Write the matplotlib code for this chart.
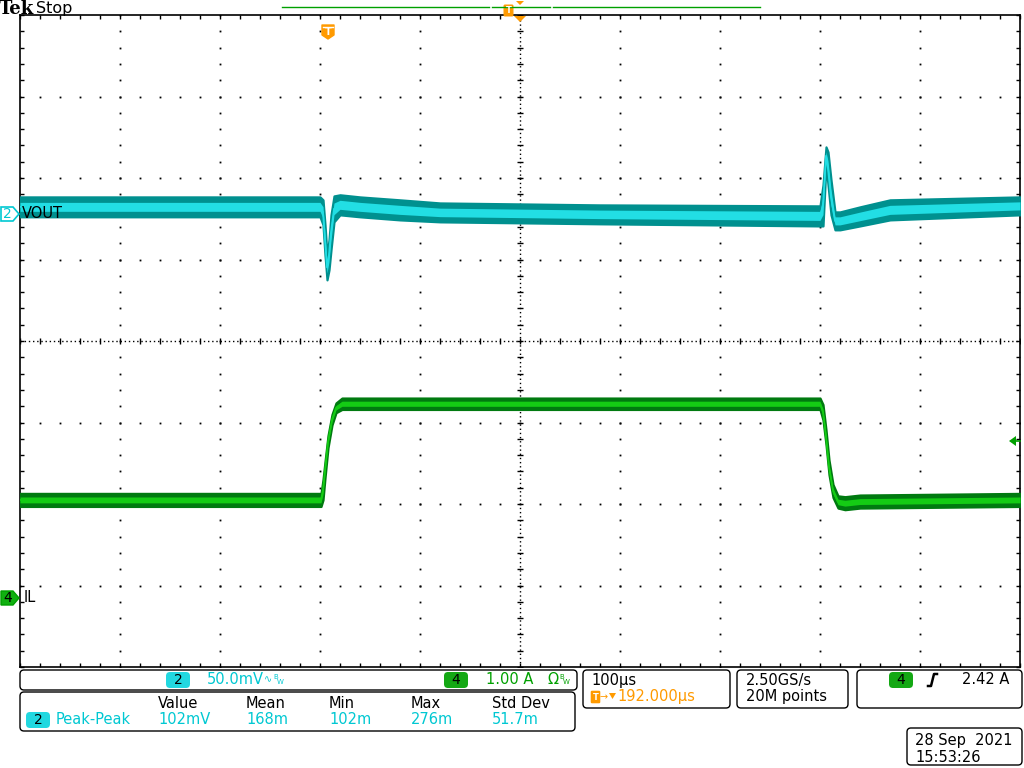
import matplotlib
matplotlib.use("Agg")
import matplotlib.pyplot as plt
from matplotlib.patches import FancyBboxPatch, Polygon
import numpy as np

# --- scope settings -------------------------------------------------------
t_left, t_right = -308, 692          # us, trigger at 0, 100 us/div
ch2_pos, ch2_scale = 1.56, 50.0      # div, mV/div  (VOUT)
ch4_pos, ch4_scale = -3.15, 1.0      # div, A/div   (IL)

# VOUT envelope (time in us, top/bottom of the band in mV relative to ch2 marker)
vout_t = [-308, -28, -8, -5, -3, -1, 1, 3, 6, 12, 32, 72, 112, 272, 492, 495,
          498, 500, 503, 507, 512, 532, 562, 692]
vout_hi = [10.4, 10.4, 10.4, 8.6, -6.7, -25.2, -16.0, -0.6, 11.0, 11.7, 10.4,
           8.6, 6.7, 5.5, 4.9, 17.8, 41.1, 38.0, 20.9, 1.2, 1.2, 4.3, 8.6, 10.4]
vout_lo = [-1.8, -1.8, -1.8, -6.7, -25.2, -40.5, -34.4, -22.1, -4.9, -0.6, -1.8,
           -3.7, -4.9, -6.1, -7.4, -7.4, 30.1, 17.8, -0.6, -9.8, -9.8, -7.4, -3.7, -0.6]

# IL envelope (time in us, top/bottom of the band in A relative to ch4 marker)
il_t = [-308, -7, -5, -3, 0, 4, 8, 14, 492, 495, 498, 501, 505, 510, 517, 532, 692]
il_hi = [1.28, 1.28, 1.45, 1.67, 1.99, 2.25, 2.39, 2.45, 2.45, 2.37, 2.06, 1.69,
         1.39, 1.25, 1.24, 1.26, 1.28]
il_lo = [1.12, 1.12, 1.20, 1.47, 1.84, 2.12, 2.27, 2.31, 2.31, 2.18, 1.88, 1.51,
         1.23, 1.10, 1.08, 1.10, 1.12]

# readouts
meas_heads = ["Value", "Mean", "Min", "Max", "Std Dev"]
meas_vals = ["102mV", "168m", "102m", "276m", "51.7m"]

CYAN_D, CYAN_L, CYAN_T = "#00908F", "#22DEE4", "#00C8D2"
GREEN_D, GREEN_L, GREEN_T = "#007A10", "#14CC14", "#00A000"
ORANGE = "#FF9A00"

fig = plt.figure(figsize=(10.24, 7.68), dpi=100)
fig.patch.set_facecolor("white")

# graticule axes
ax = fig.add_axes([20 / 1024, 101 / 768, 1000 / 1024, 652 / 768])
ax.set_xlim(t_left, t_right)
ax.set_ylim(-4, 4)
for s in ax.spines.values():
    s.set_linewidth(1.2)
ax.set_xticks(np.arange(t_left, t_right + 1, 20))
ax.set_yticks(np.arange(-4, 4.01, 0.2))
ax.tick_params(direction="in", length=3, width=1, top=True, right=True,
               labelbottom=False, labelleft=False)

# dotted division lines
xdiv = np.arange(t_left + 100, t_right, 100)
ydiv = np.arange(-3, 4, 1)
yfine = np.arange(-4, 4.01, 0.2)
xfine = np.arange(t_left, t_right + 1, 20)
for xv in xdiv:
    if xv == 192:
        continue
    ax.plot([xv] * len(yfine), yfine, ls="none", marker="s", ms=1.3, mew=0, color="k", zorder=1)
for yv in ydiv:
    if yv == 0:
        continue
    ax.plot(xfine, [yv] * len(xfine), ls="none", marker="s", ms=1.3, mew=0, color="k", zorder=1)
# center cross
ax.axhline(0, color="k", lw=1, ls=(0, (1, 2)), zorder=1)
ax.axvline(192, color="k", lw=1, ls=(0, (1, 2)), zorder=1)
ax.plot(xfine, [0] * len(xfine), ls="none", marker="|", ms=4.5, mew=1, color="k", zorder=1)
ax.plot([192] * len(yfine), yfine, ls="none", marker="_", ms=4.5, mew=1, color="k", zorder=1)


def band(t, hi, lo, pos, scale, dark, light):
    t = np.array(t, float)
    hi = pos + np.array(hi) / scale
    lo = pos + np.array(lo) / scale
    mid = (hi + lo) / 2
    w = (hi - lo) / 2
    ax.fill_between(t, lo, hi, color=dark, lw=1.6, edgecolor=dark, zorder=3)
    ax.fill_between(t, mid - 0.45 * w, mid + 0.45 * w, color=light, lw=0, zorder=4)
    ax.plot(t, mid, color=light, lw=1.3, zorder=5)


band(vout_t, vout_hi, vout_lo, ch2_pos, ch2_scale, CYAN_D, CYAN_L)
band(il_t, il_hi, il_lo, ch4_pos, ch4_scale, GREEN_D, GREEN_L)

# overlay in pixel coordinates for screen annotations
ov = fig.add_axes([0, 0, 1, 1], zorder=10)
ov.set_xlim(0, 1024)
ov.set_ylim(768, 0)
ov.axis("off")
ov.patch.set_alpha(0)

ov.text(-1, 9, "Tek", fontsize=13, fontweight="bold", family="DejaVu Serif",
        va="center", ha="left")
ov.text(36, 8, "Stop", fontsize=11.5, va="center", ha="left")

# record bar at top
ov.plot([282, 489], [7, 7], color=GREEN_T, lw=1)
ov.plot([492, 550], [7, 7], color=GREEN_T, lw=1)
ov.plot([553, 760], [7, 7], color=GREEN_T, lw=1)
ov.add_patch(FancyBboxPatch((505, 6), 7, 9, boxstyle="round,pad=0.8", fc=ORANGE, ec=ORANGE))
ov.text(508.5, 10.5, "T", color="white", fontsize=6, fontweight="bold", ha="center", va="center")
ov.add_patch(Polygon([[516, 1], [524, 1], [520, 5]], closed=True, fc=ORANGE, ec="none"))
ov.add_patch(Polygon([[514, 16], [526, 16], [520, 22]], closed=True, fc=ORANGE, ec="none"))

# trigger position marker
ov.add_patch(Polygon([[322, 25], [334, 25], [334, 35], [328, 39], [322, 35]],
                     closed=True, fc=ORANGE, ec=ORANGE, lw=1, joinstyle="round"))
ov.plot([323, 333], [27, 27], color="white", lw=1)
ov.text(328, 32, "T", color="white", fontsize=7, fontweight="bold", ha="center", va="center")

# channel markers
ov.add_patch(Polygon([[1, 207], [13, 207], [19, 214], [13, 221], [1, 221]],
                     closed=True, fc="white", ec=CYAN_T, lw=1.2))
ov.text(7.5, 214.5, "2", color=CYAN_T, fontsize=10, ha="center", va="center")
ov.text(22, 214, "VOUT", fontsize=10.5, ha="left", va="center")
ov.add_patch(Polygon([[1, 591], [13, 591], [19, 598], [13, 605], [1, 605]],
                     closed=True, fc="#10B010", ec=GREEN_T, lw=1))
ov.text(7.5, 598.5, "4", color="black", fontsize=10, ha="center", va="center")
ov.text(24, 598, "IL", fontsize=10.5, ha="left", va="center")

# trigger level arrow
ov.add_patch(Polygon([[1009, 441], [1016, 436], [1016, 446]], closed=True, fc=GREEN_T, ec="none"))
ov.plot([1015, 1020], [441, 441], color=GREEN_T, lw=1.2)


def box(x0, y0, x1, y1):
    ov.add_patch(FancyBboxPatch((x0 + 4, y0 + 4), x1 - x0 - 8, y1 - y0 - 8,
                                boxstyle="round,pad=4", fc="white", ec="black", lw=1))


def pill(x, y, s, fc):
    ov.add_patch(FancyBboxPatch((x - 8, y - 4), 16, 8,
                                boxstyle="round,pad=4", fc=fc, ec="none"))
    ov.text(x, y + 0.5, s, fontsize=10, color="black", ha="center", va="center")


fs = 10.5
box(20, 670, 577, 690)
pill(178, 680, "2", "#22D8E0")
ov.text(207, 680, "50.0mV", color=CYAN_T, fontsize=fs, va="center", ha="left")
ov.text(264, 679, "∿", color=CYAN_T, fontsize=7, va="center", ha="left")
ov.text(273, 677, "B", color=CYAN_T, fontsize=5, va="center", ha="left")
ov.text(277, 682, "W", color=CYAN_T, fontsize=5, va="center", ha="left")
pill(456, 680, "4", "#14A814")
ov.text(486, 680, "1.00 A", color=GREEN_T, fontsize=fs, va="center", ha="left")
ov.text(547, 680, "Ω", color=GREEN_T, fontsize=fs, va="center", ha="left")
ov.text(559, 677, "B", color=GREEN_T, fontsize=5, va="center", ha="left")
ov.text(563, 682, "W", color=GREEN_T, fontsize=5, va="center", ha="left")

box(20, 692, 575, 731)
cols = [158, 246, 329, 411, 492]
for cx, h, v in zip(cols, meas_heads, meas_vals):
    ov.text(cx, 703, h, fontsize=fs, va="center", ha="left")
    ov.text(cx, 720, v, color=CYAN_T, fontsize=fs, va="center", ha="left")
pill(38, 720, "2", "#22D8E0")
ov.text(56, 720, "Peak-Peak", color=CYAN_T, fontsize=fs, va="center", ha="left")

box(583, 670, 730, 708)
ov.text(591, 680, "100µs", fontsize=fs, va="center", ha="left")
ov.add_patch(FancyBboxPatch((592, 692), 7, 10, boxstyle="round,pad=0.6", fc=ORANGE, ec=ORANGE))
ov.text(595.5, 697.5, "T", color="white", fontsize=6, fontweight="bold", ha="center", va="center")
ov.text(600, 697, "→", color=ORANGE, fontsize=7, va="center", ha="left")
ov.add_patch(Polygon([[609, 693], [616, 693], [612.5, 699]], closed=True, fc=ORANGE, ec="none"))
ov.text(617, 697, "192.000µs", color=ORANGE, fontsize=fs, va="center", ha="left")

box(737, 670, 848, 708)
ov.text(746, 680, "2.50GS/s", fontsize=fs, va="center", ha="left")
ov.text(746, 697, "20M points", fontsize=fs, va="center", ha="left")

box(857, 670, 1022, 708)
pill(901, 680, "4", "#14A814")
ov.plot([928, 931, 934, 937], [686, 686, 674, 674], color="black", lw=1.8)
ov.text(962, 680, "2.42 A", fontsize=fs, va="center", ha="left")

box(907, 728, 1022, 765)
ov.text(915, 740, "28 Sep  2021", fontsize=fs, va="center", ha="left")
ov.text(915, 757, "15:53:26", fontsize=fs, va="center", ha="left")

fig.savefig("out.png", dpi=100)
